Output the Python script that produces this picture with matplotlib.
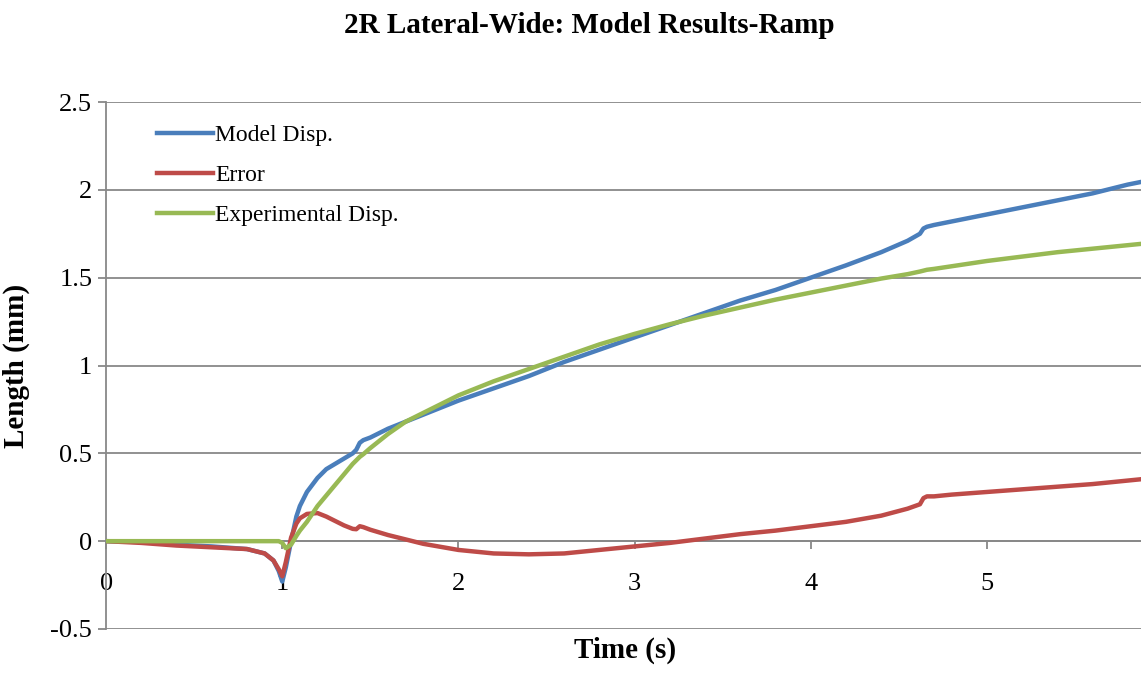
import numpy as np
import matplotlib
matplotlib.use("Agg")
import matplotlib.pyplot as plt

# values
time_s = [0, 0.2, 0.4, 0.6, 0.8, 0.9, 0.95, 0.98, 1.0, 1.02, 1.05, 1.08, 1.1, 1.14,
          1.2, 1.25, 1.3, 1.35, 1.4, 1.42, 1.44, 1.46, 1.5, 1.6, 1.7, 1.8, 2.0, 2.2,
          2.4, 2.6, 2.8, 3.0, 3.2, 3.4, 3.6, 3.8, 4.0, 4.2, 4.4, 4.55, 4.62, 4.64,
          4.66, 4.7, 4.8, 5.0, 5.2, 5.4, 5.6, 5.8, 5.9]

model_disp = [0, -0.005, -0.02, -0.03, -0.045, -0.07, -0.11, -0.17, -0.23, -0.15,
              0.0, 0.14, 0.2, 0.28, 0.36, 0.41, 0.44, 0.47, 0.50, 0.52, 0.56, 0.575,
              0.59, 0.64, 0.68, 0.72, 0.80, 0.87, 0.94, 1.02, 1.09, 1.16, 1.23, 1.30,
              1.37, 1.43, 1.50, 1.57, 1.645, 1.71, 1.75, 1.78, 1.79, 1.80, 1.82, 1.86,
              1.90, 1.94, 1.98, 2.03, 2.05]

error = [0, -0.01, -0.025, -0.035, -0.045, -0.07, -0.11, -0.16, -0.20, -0.12, 0.02,
         0.1, 0.13, 0.155, 0.16, 0.14, 0.115, 0.09, 0.07, 0.068, 0.085, 0.08, 0.065,
         0.035, 0.01, -0.015, -0.05, -0.07, -0.075, -0.07, -0.05, -0.03, -0.01,
         0.015, 0.04, 0.06, 0.085, 0.11, 0.145, 0.185, 0.21, 0.245, 0.255, 0.255,
         0.265, 0.28, 0.295, 0.31, 0.325, 0.345, 0.355]

exp_disp = [0, 0, 0, 0, 0, 0, 0, 0, -0.01, -0.04, -0.02, 0.03, 0.06, 0.11, 0.2, 0.26,
            0.32, 0.38, 0.44, 0.46, 0.48, 0.495, 0.53, 0.61, 0.68, 0.73, 0.83, 0.91,
            0.98, 1.05, 1.12, 1.18, 1.235, 1.285, 1.33, 1.375, 1.415, 1.455, 1.495,
            1.52, 1.535, 1.54, 1.545, 1.55, 1.565, 1.595, 1.62, 1.645, 1.665, 1.685,
            1.695]

plt.rcParams['font.family'] = ['Liberation Serif', 'DejaVu Serif']

fig = plt.figure(figsize=(11.41, 6.73), dpi=100)
ax = fig.add_axes([0.093, 0.0654, 0.907, 0.783])

grid_c = '#888888'
ax.plot(time_s, model_disp, color='#4A7EBB', lw=3.2, label='Model Disp.', zorder=3)
ax.plot(time_s, error, color='#BE4B48', lw=3.2, label='Error', zorder=4)
ax.plot(time_s, exp_disp, color='#98B954', lw=3.2, label='Experimental Disp.', zorder=5)

ax.set_xlim(0, 5.875)
ax.set_ylim(-0.5, 2.5)
ax.set_yticks(np.arange(-0.5, 2.51, 0.5))
ax.set_yticklabels(['-0.5', '0', '0.5', '1', '1.5', '2', '2.5'])
ax.set_xticks(range(0, 6))
ax.yaxis.grid(True, color=grid_c, lw=1.3)
ax.set_axisbelow(True)

for s in ['top', 'right']:
    ax.spines[s].set_visible(False)
ax.spines['left'].set_color(grid_c)
ax.spines['left'].set_linewidth(1.3)
ax.spines['bottom'].set_position(('data', 0))
ax.spines['bottom'].set_color(grid_c)
ax.spines['bottom'].set_linewidth(1.3)

ax.tick_params(axis='x', direction='out', length=6, width=1.3, color=grid_c,
               labelsize=19, pad=17)
ax.tick_params(axis='y', direction='out', length=6, width=1.3, color=grid_c,
               labelsize=19, pad=4)

ax.set_title('2R Lateral-Wide: Model Results-Ramp', fontsize=21, fontweight='bold',
             pad=50, x=0.467)
ax.set_xlabel('Time (s)', fontsize=21, fontweight='bold')
ax.xaxis.set_label_coords(0.501, -0.015)
ax.set_ylabel('Length (mm)', fontsize=21, fontweight='bold')
ax.yaxis.set_label_coords(-0.074, 0.5)

ax.legend(loc='upper left', bbox_to_anchor=(0.029, 0.997), frameon=False, fontsize=17,
          handlelength=2.35, handletextpad=0.1, labelspacing=0.78)

fig.savefig('out.png', dpi=100)
